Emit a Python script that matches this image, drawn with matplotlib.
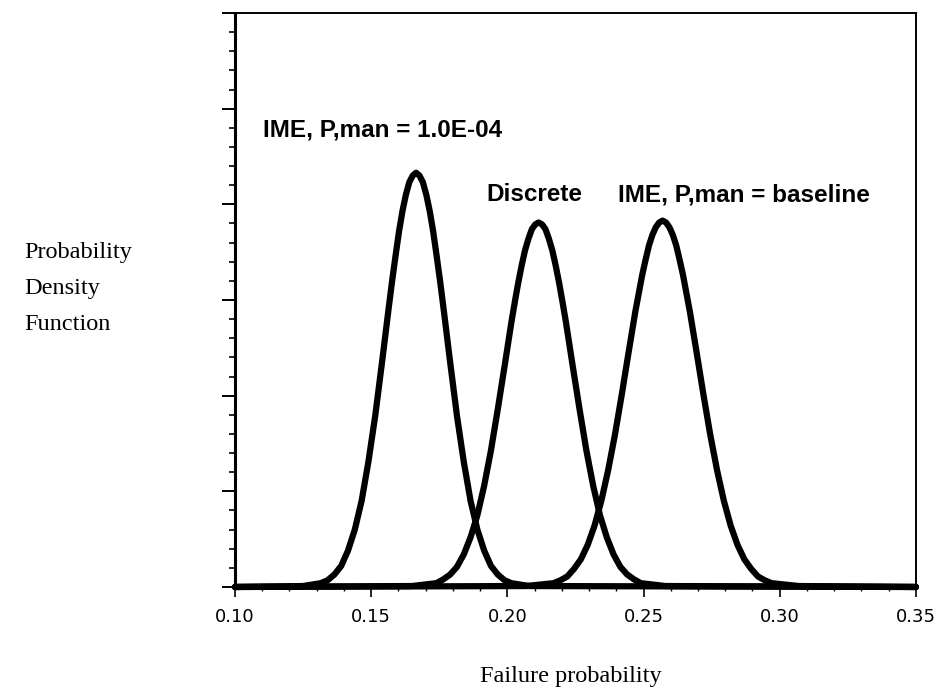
import matplotlib
matplotlib.use("Agg")
import matplotlib.pyplot as plt
from matplotlib.ticker import MultipleLocator

# curves (x = failure probability, y = density, arbitrary units)
x_ime_low = [0.10, 0.125, 0.1315, 0.134, 0.1365, 0.139, 0.1415, 0.144, 0.1465, 0.149, 0.1515,
             0.154, 0.1565, 0.15775, 0.159, 0.16025, 0.1615, 0.16275, 0.164, 0.16525, 0.1665,
             0.16775, 0.169, 0.17025, 0.1715, 0.17275, 0.174, 0.17525, 0.1765, 0.179, 0.1815,
             0.184, 0.1865, 0.189, 0.1915, 0.194, 0.1965, 0.199, 0.2015, 0.208, 0.35]
y_ime_low = [0, 0.01, 0.04, 0.07, 0.13, 0.22, 0.38, 0.60, 0.90, 1.31, 1.79, 2.35, 2.93, 3.21,
             3.47, 3.72, 3.93, 4.10, 4.23, 4.30, 4.33, 4.30, 4.23, 4.10, 3.93, 3.72, 3.47, 3.21,
             2.93, 2.35, 1.79, 1.31, 0.90, 0.60, 0.38, 0.22, 0.13, 0.07, 0.04, 0.01, 0]

x_discrete = [0.10, 0.165, 0.174, 0.1765, 0.179, 0.1815, 0.184, 0.1865, 0.189, 0.1915, 0.194,
              0.1965, 0.199, 0.2015, 0.20275, 0.204, 0.20525, 0.2065, 0.20775, 0.209, 0.21025,
              0.2115, 0.21275, 0.214, 0.21525, 0.2165, 0.21775, 0.219, 0.22025, 0.2215, 0.224,
              0.2265, 0.229, 0.2315, 0.234, 0.2365, 0.239, 0.2415, 0.244, 0.2465, 0.249, 0.258,
              0.35]
y_discrete = [0, 0.01, 0.04, 0.08, 0.13, 0.21, 0.34, 0.52, 0.75, 1.06, 1.43, 1.86, 2.31, 2.77,
              2.98, 3.18, 3.36, 3.52, 3.64, 3.74, 3.79, 3.81, 3.79, 3.74, 3.64, 3.52, 3.36, 3.18,
              2.98, 2.77, 2.31, 1.86, 1.43, 1.06, 0.75, 0.52, 0.34, 0.21, 0.13, 0.08, 0.04, 0.01,
              0]

x_ime_base = [0.10, 0.207, 0.217, 0.2195, 0.222, 0.2245, 0.227, 0.2295, 0.232, 0.2345, 0.237,
              0.2395, 0.242, 0.2445, 0.247, 0.24825, 0.2495, 0.25075, 0.252, 0.25325, 0.2545,
              0.25575, 0.257, 0.25825, 0.2595, 0.26075, 0.262, 0.26325, 0.2645, 0.26575, 0.267,
              0.2695, 0.272, 0.2745, 0.277, 0.2795, 0.282, 0.2845, 0.287, 0.2895, 0.292, 0.2945,
              0.297, 0.307, 0.35]
y_ime_base = [0, 0.01, 0.04, 0.07, 0.11, 0.19, 0.29, 0.44, 0.64, 0.90, 1.22, 1.59, 2.01, 2.45,
              2.88, 3.07, 3.26, 3.42, 3.57, 3.68, 3.76, 3.81, 3.83, 3.81, 3.76, 3.68, 3.57, 3.42,
              3.26, 3.07, 2.88, 2.45, 2.01, 1.59, 1.22, 0.90, 0.64, 0.44, 0.29, 0.19, 0.11, 0.07,
              0.04, 0.01, 0]

curves = [(x_ime_low, y_ime_low), (x_discrete, y_discrete), (x_ime_base, y_ime_base)]
labels = ["IME, P,man = 1.0E-04", "Discrete", "IME, P,man = baseline"]
xticks = [0.10, 0.15, 0.20, 0.25, 0.30, 0.35]
ylabel_lines = ["Probability", "Density", "Function"]

fig = plt.figure(figsize=(9.52, 6.9), dpi=100)
ax = fig.add_axes([0.2468, 0.1493, 0.7153, 0.8319])

for xs, ys in curves:
    ax.plot(xs, ys, color="black", linewidth=4.5, solid_capstyle="round",
            solid_joinstyle="round", clip_on=False, zorder=3)

ax.set_xlim(0.10, 0.35)
ax.set_ylim(0, 6)
ax.set_xticks(xticks)
ax.set_xticklabels([f"{t:.2f}" for t in xticks], fontsize=13, family="DejaVu Sans")
ax.xaxis.set_minor_locator(MultipleLocator(0.01))
ax.yaxis.set_major_locator(MultipleLocator(1))
ax.yaxis.set_minor_locator(MultipleLocator(0.2))
ax.set_yticklabels([])
ax.tick_params(axis="x", which="major", direction="out", length=7, width=1.2, pad=8)
ax.tick_params(axis="x", which="minor", direction="out", length=3, width=1.0)
ax.tick_params(axis="y", which="major", direction="out", length=9.5, width=1.4)
ax.tick_params(axis="y", which="minor", direction="out", length=4.5, width=1.2)

for side in ["left", "bottom"]:
    ax.spines[side].set_linewidth(2.2)
for side in ["top", "right"]:
    ax.spines[side].set_linewidth(1.4)

font_lbl = dict(fontsize=17.5, fontweight="bold", family="Liberation Sans")
ax.text(0.1103, 4.78, labels[0], ha="left", va="center", **font_lbl)
ax.text(0.2098, 4.10, labels[1], ha="center", va="center", **font_lbl)
ax.text(0.2407, 4.10, labels[2], ha="left", va="center", **font_lbl)

# serif side / bottom captions
for line, yy in zip(ylabel_lines, [0.6261, 0.5739, 0.5217]):
    fig.text(0.026, yy, line, ha="left", va="baseline", fontsize=17.5,
             family="Liberation Serif")
fig.text(0.600, 0.0116, "Failure probability", ha="center", va="baseline",
         fontsize=17.5, family="Liberation Serif")

fig.savefig("out.png", dpi=100)
